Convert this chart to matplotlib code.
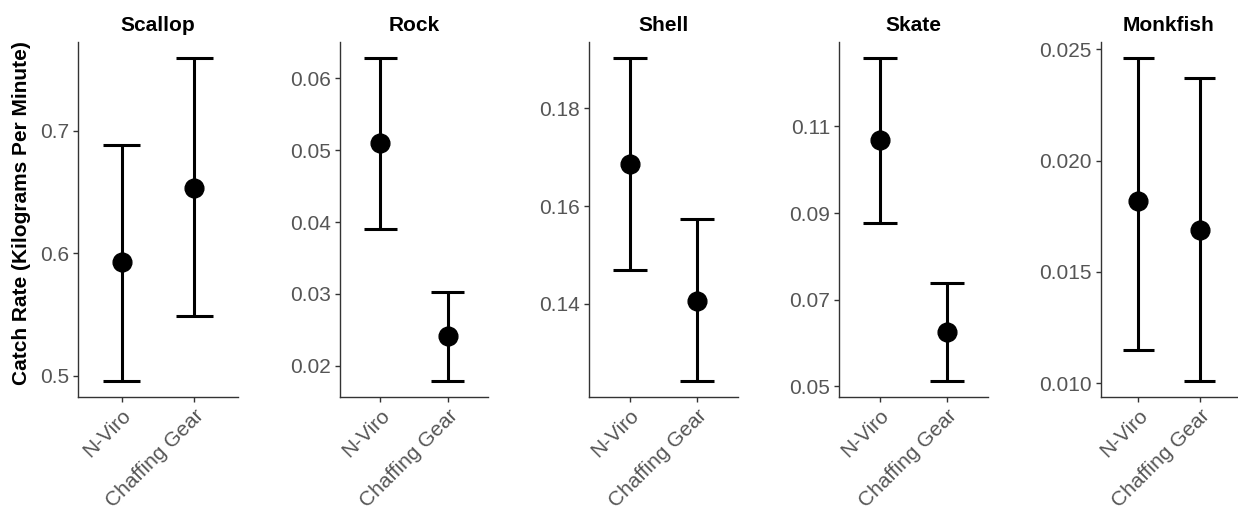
import matplotlib

matplotlib.use("Agg")
import matplotlib.pyplot as plt

plt.rcParams["font.family"] = ["Liberation Sans", "DejaVu Sans"]

# Treatments, one pair of estimates per species panel
gears = ["N-Viro", "Chaffing Gear"]
species = ["Scallop", "Rock", "Shell", "Skate", "Monkfish"]

# Mean catch rate and 95% interval per gear, per species
scallop_mean = [0.593, 0.653]
scallop_low = [0.496, 0.549]
scallop_high = [0.688, 0.759]

rock_mean = [0.0510, 0.0242]
rock_low = [0.0390, 0.0179]
rock_high = [0.0628, 0.0302]

shell_mean = [0.1686, 0.1406]
shell_low = [0.1469, 0.1242]
shell_high = [0.1903, 0.1573]

skate_mean = [0.1068, 0.0624]
skate_low = [0.0877, 0.0512]
skate_high = [0.1258, 0.0739]

monkfish_mean = [0.0182, 0.0169]
monkfish_low = [0.0115, 0.0101]
monkfish_high = [0.0246, 0.0237]

# y-axis breaks for each panel
scallop_ticks = [0.5, 0.6, 0.7]
rock_ticks = [0.02, 0.03, 0.04, 0.05, 0.06]
shell_ticks = [0.14, 0.16, 0.18]
skate_ticks = [0.05, 0.07, 0.09, 0.11]
monkfish_ticks = [0.010, 0.015, 0.020, 0.025]

scallop_labels = ["0.5", "0.6", "0.7"]
rock_labels = ["0.02", "0.03", "0.04", "0.05", "0.06"]
shell_labels = ["0.14", "0.16", "0.18"]
skate_labels = ["0.05", "0.07", "0.09", "0.11"]
monkfish_labels = ["0.010", "0.015", "0.020", "0.025"]

panels = [
    (scallop_mean, scallop_low, scallop_high, scallop_ticks, scallop_labels),
    (rock_mean, rock_low, rock_high, rock_ticks, rock_labels),
    (shell_mean, shell_low, shell_high, shell_ticks, shell_labels),
    (skate_mean, skate_low, skate_high, skate_ticks, skate_labels),
    (monkfish_mean, monkfish_low, monkfish_high, monkfish_ticks, monkfish_labels),
]

W, H = 1238, 521
# panel boxes in pixels: left, right (top/bottom shared)
LEFTS = [78, 340, 589, 839, 1101]
RIGHTS = [238, 488, 738, 988, 1237]
TOP, BOTTOM = 42, 397

TEXT_GREY = "#555555"
AXIS_GREY = "#333333"

fig = plt.figure(figsize=(W / 100, H / 100), dpi=100)
fig.patch.set_facecolor("white")

for name, (mean, low, high, ticks, labels), left, right in zip(
    species, panels, LEFTS, RIGHTS
):
    ax = fig.add_axes(
        [left / W, 1 - BOTTOM / H, (right - left) / W, (BOTTOM - TOP) / H]
    )
    xs = list(range(1, len(gears) + 1))
    for x, m, lo, hi in zip(xs, mean, low, high):
        ax.vlines(x, lo, hi, color="black", linewidth=2.2, zorder=2)
        ax.hlines([lo, hi], x - 0.25, x + 0.25, color="black", linewidth=2.2, zorder=2)
    ax.plot(xs, mean, "o", color="black", markersize=13.5, linestyle="none", zorder=3)

    # ggplot-style 5% expansion around the interval range
    ymin, ymax = min(low), max(high)
    pad = 0.05 * (ymax - ymin)
    ax.set_ylim(ymin - pad, ymax + pad)
    ax.set_xlim(0.4, len(gears) + 0.6)

    ax.set_yticks(ticks)
    ax.set_yticklabels(labels)
    ax.set_xticks(xs)
    ax.set_xticklabels(
        gears, rotation=45, ha="right", va="top", rotation_mode="anchor"
    )
    ax.tick_params(
        axis="both", direction="out", length=3.5, width=1.0, color=AXIS_GREY,
        labelsize=15, labelcolor=TEXT_GREY, pad=3,
    )
    for side in ("top", "right"):
        ax.spines[side].set_visible(False)
    for side in ("left", "bottom"):
        ax.spines[side].set_color(AXIS_GREY)
        ax.spines[side].set_linewidth(1.0)
    ax.set_title(name, fontsize=15, fontweight="bold", pad=8)

fig.text(
    22 / W, 1 - 213 / H, "Catch Rate (Kilograms Per Minute)",
    rotation=90, ha="center", va="center", fontsize=15, fontweight="bold",
)

fig.savefig("out.png", dpi=100)
